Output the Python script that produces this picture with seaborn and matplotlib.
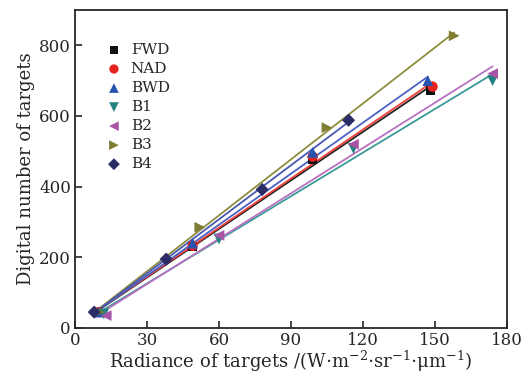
import numpy as np
import matplotlib.pyplot as plt
import pandas as pd
import seaborn as sns

# values
bands = ['FWD', 'NAD', 'BWD', 'B1', 'B2', 'B3', 'B4']
x_fwd = [10, 49, 99, 148]
y_fwd = [45, 230, 477, 672]
x_nad = [10, 49, 99, 149]
y_nad = [45, 233, 485, 683]
x_bwd = [10, 49, 99, 147]
y_bwd = [45, 240, 497, 700]
x_b1 = [12, 60, 116, 174]
y_b1 = [40, 252, 508, 700]
x_b2 = [13, 60, 116, 174]
y_b2 = [35, 262, 520, 720]
x_b3 = [10, 52, 105, 158]
y_b3 = [45, 285, 567, 827]
x_b4 = [8, 38, 78, 114]
y_b4 = [45, 195, 392, 588]

xs = [x_fwd, x_nad, x_bwd, x_b1, x_b2, x_b3, x_b4]
ys = [y_fwd, y_nad, y_bwd, y_b1, y_b2, y_b3, y_b4]
df = pd.concat([pd.DataFrame({'band': b, 'L': x, 'DN': y})
                for b, x, y in zip(bands, xs, ys)], ignore_index=True)

mk_col = {'FWD': '#111111', 'NAD': '#e8231f', 'BWD': '#2652b0', 'B1': '#23817f',
          'B2': '#a855a8', 'B3': '#7f7d32', 'B4': '#2c2c66'}
ln_col = {'FWD': '#222222', 'NAD': '#f0403a', 'BWD': '#4a62c4', 'B1': '#3a9a98',
          'B2': '#b870c0', 'B3': '#8e8c40', 'B4': '#4a58b0'}
markers = {'FWD': 's', 'NAD': 'o', 'BWD': '^', 'B1': 'v', 'B2': '<', 'B3': '>', 'B4': 'D'}
sizes = {'FWD': 40, 'NAD': 55, 'BWD': 60, 'B1': 60, 'B2': 60, 'B3': 60, 'B4': 45}

sns.set_style('ticks')
plt.rcParams['font.family'] = ['DejaVu Serif']
plt.rcParams['mathtext.fontset'] = 'dejavuserif'

fig = plt.figure(figsize=(5.23, 3.79), dpi=100)
ax = fig.add_axes([0.1434, 0.1346, 0.826, 0.839])

for b in bands:
    d = df[df.band == b]
    sns.regplot(data=d, x='L', y='DN', ax=ax, scatter=False, ci=None,
                color=ln_col[b], line_kws={'lw': 1.3})
for b in bands:
    d = df[df.band == b]
    sns.scatterplot(data=d, x='L', y='DN', ax=ax, marker=markers[b],
                    color=mk_col[b], s=sizes[b], edgecolor='none',
                    label=b, zorder=5)

ax.set_xlim(0, 180)
ax.set_ylim(0, 900)
ax.set_xticks(np.arange(0, 181, 30))
ax.set_yticks(np.arange(0, 801, 200))
ax.tick_params(direction='in', length=5, width=1.2, labelsize=12, pad=3)
for s in ax.spines.values():
    s.set_linewidth(1.3)
ax.set_xlabel(r'Radiance of targets /(W$\cdot$m$^{-2}$$\cdot$sr$^{-1}$$\cdot$$\mathrm{\mu}$m$^{-1}$)',
              fontsize=13, labelpad=0)
ax.set_ylabel('Digital number of targets', fontsize=13, labelpad=3)

ax.legend(loc='upper left', bbox_to_anchor=(0.03, 0.93), frameon=False,
          fontsize=11, handletextpad=0.1, labelspacing=0.33, borderpad=0.2,
          markerscale=0.9)

fig.savefig('out.png', dpi=100)
